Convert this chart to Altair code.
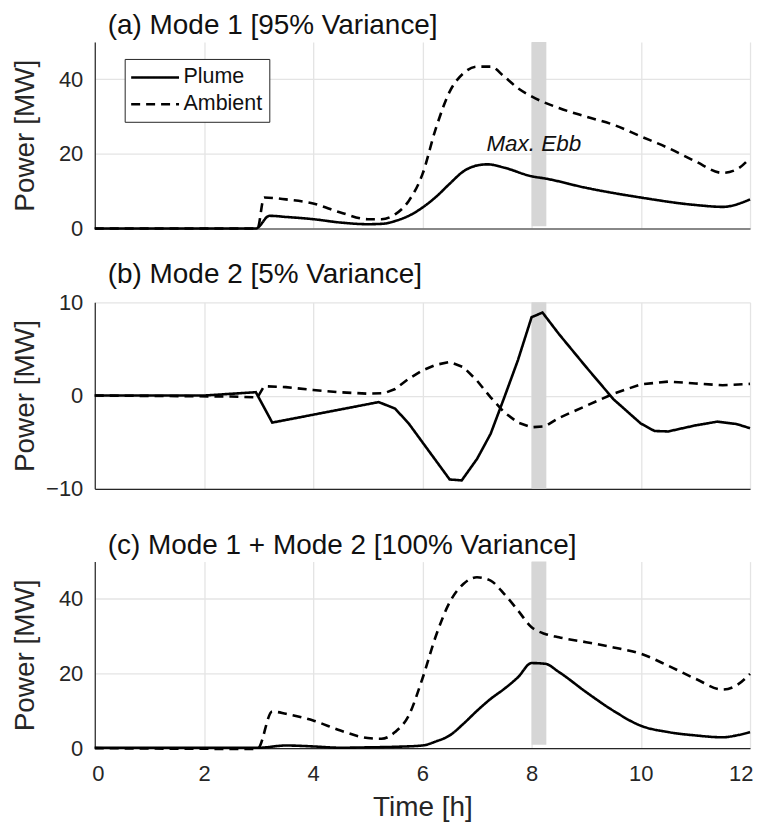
import altair as alt
import pandas as pd

FONT = "Liberation Sans"
INK = "#262626"

# ---------------- data ----------------
# (a) Mode 1
a_plume_t = [0, 2.95, 3.2, 3.5, 4, 4.5, 5, 5.3, 5.5, 5.75, 6, 6.25, 6.5, 6.75, 7.0, 7.2, 7.5, 8, 8.25, 9, 10, 11, 11.5, 12]
a_plume_v = [0, 0, 3.4, 3.1, 2.5, 1.6, 1.15, 1.3, 2.0, 3.4, 5.6, 8.5, 12.0, 15.3, 16.9, 17.2, 16.3, 14.0, 13.4, 10.9, 8.3, 6.3, 5.8, 7.8]
a_amb_t = [0, 2.98, 3.1, 3.5, 4, 4.5, 5, 5.25, 5.5, 5.75, 6, 6.25, 6.5, 6.75, 7, 7.25, 7.5, 7.75, 8, 8.5, 9, 9.5, 10, 10.5, 11, 11.5, 11.75, 12]
a_amb_v = [0, 0, 8.3, 7.8, 6.7, 4.3, 2.5, 2.5, 3.8, 7.4, 14.5, 27, 36.7, 41.6, 43.4, 43.4, 40.7, 37.6, 35.4, 32.3, 30, 27.8, 24.7, 21.6, 18, 14.9, 15.8, 18.9]

# (b) Mode 2
b_plume_t = [0, 2, 2.95, 3.25, 5.2, 5.5, 5.75, 6, 6.25, 6.5, 6.72, 7, 7.25, 7.5, 7.75, 8, 8.2, 8.5, 9, 9.5, 10, 10.25, 10.5, 11, 11.4, 11.75, 12]
b_plume_v = [0, 0, 0.36, -2.9, -0.7, -1.4, -3.0, -5.0, -7.0, -9.0, -9.1, -6.8, -4.1, -0.2, 3.8, 8.4, 8.9, 6.6, 3.05, -0.4, -3.0, -3.8, -3.85, -3.2, -2.8, -3.05, -3.5]
b_amb_t = [0, 2.5, 2.98, 3.1, 3.5, 4, 4.5, 5, 5.3, 5.5, 5.75, 6, 6.25, 6.5, 6.75, 7, 7.25, 7.5, 7.75, 8, 8.25, 8.5, 9, 9.5, 10, 10.5, 11, 11.5, 12]
b_amb_v = [0, -0.1, -0.2, 1.0, 0.9, 0.6, 0.35, 0.2, 0.25, 0.7, 1.8, 2.7, 3.3, 3.6, 3.05, 1.6, -0.2, -1.8, -2.9, -3.4, -3.3, -2.4, -1.1, 0.2, 1.2, 1.5, 1.3, 1.1, 1.25]

# (c) Mode 1 + Mode 2
c_plume_t = [0, 3, 3.5, 4, 4.5, 5, 5.5, 6, 6.25, 6.5, 6.75, 7, 7.25, 7.5, 7.75, 8, 8.25, 8.5, 9, 9.5, 10, 10.5, 11, 11.5, 11.75, 12]
c_plume_v = [0.1, 0.1, 0.7, 0.45, 0.1, 0.2, 0.35, 0.7, 1.8, 3.4, 6.5, 10, 13.2, 15.9, 19, 22.8, 22.6, 20.4, 15, 10, 6, 4.3, 3.4, 2.9, 3.4, 4.3]
c_amb_t = [0, 2.5, 2.98, 3.25, 3.5, 4, 4.5, 5, 5.25, 5.5, 5.75, 6, 6.25, 6.5, 6.75, 7, 7.25, 7.5, 7.75, 8, 8.25, 8.5, 9, 9.5, 10, 10.5, 11, 11.5, 11.75, 12]
c_amb_v = [0, -0.2, -0.2, 9.8, 9.2, 7.4, 4.7, 2.7, 2.5, 4.3, 8.75, 18.6, 30.2, 39.1, 44, 45.8, 44.9, 41.3, 36.9, 32.4, 30.6, 29.7, 28.4, 27, 25.3, 22.1, 18.6, 15.7, 16.8, 19.9]

titles = ["(a) Mode 1 [95% Variance]", "(b) Mode 2 [5% Variance]", "(c) Mode 1 + Mode 2 [100% Variance]"]
series_names = ["Plume", "Ambient"]
x_ticks = [0, 2, 4, 6, 8, 10, 12]
band_t = [8.0, 8.27]
annot_text = ["Max. Ebb"]
annot_t = [8.04]
annot_v = [22.6]

W, H = 657, 187


def long_df(pt, pv, at, av):
    d1 = pd.DataFrame({"t": pt, "v": pv, "series": series_names[0]})
    d2 = pd.DataFrame({"t": at, "v": av, "series": series_names[1]})
    return pd.concat([d1, d2], ignore_index=True)


def panel(title, df, ydom, yvals, show_x, show_legend, interp, band_bottom, annotate=False):
    xscale = alt.Scale(domain=[0, 12], nice=False, zero=False)
    yscale = alt.Scale(domain=ydom, nice=False, zero=False)
    if show_x:
        xaxis = alt.Axis(values=x_ticks, title="Time [h]", labelPadding=15, titlePadding=10,
                         grid=True, ticks=False, labelFlush=True, labelFlushOffset=3)
    else:
        xaxis = alt.Axis(values=x_ticks, title=None, labels=False, ticks=False, grid=True,
                         minExtent=0, maxExtent=0)
    yaxis = alt.Axis(values=yvals, title="Power [MW]", grid=True, ticks=False,
                     labelPadding=12, minExtent=44, maxExtent=44, titlePadding=11)

    band_df = pd.DataFrame({"x": [band_t[0]], "x2": [band_t[1]], "y": [ydom[1]], "y2": [band_bottom]})
    band = alt.Chart(band_df).mark_rect(color="#d6d6d6").encode(
        x=alt.X("x:Q", scale=xscale, axis=xaxis),
        x2="x2:Q",
        y=alt.Y("y:Q", scale=yscale, axis=yaxis),
        y2="y2:Q",
    )
    if show_legend:
        legend = alt.Legend(orient="none", legendX=30, legendY=17, title=None,
                            strokeColor=INK, fillColor="white", padding=7,
                            labelFontSize=21.5, labelFont=FONT, labelColor="#111",
                            symbolType="M-1.2,0H3.6", symbolSize=400, symbolStrokeWidth=2.5,
                            symbolStrokeColor="black", rowPadding=5, labelOffset=29,
                            cornerRadius=0)
    else:
        legend = None
    lines = alt.Chart(df).mark_line(color="black", strokeWidth=2.6, interpolate=interp).encode(
        x=alt.X("t:Q", scale=xscale, axis=xaxis),
        y=alt.Y("v:Q", scale=yscale, axis=yaxis),
        strokeDash=alt.StrokeDash("series:N",
                                  scale=alt.Scale(domain=series_names, range=[[1, 0], [9, 6]]),
                                  legend=legend),
        order=alt.Order("t:Q"),
    )
    layers = [band, lines]
    if annotate:
        adf = pd.DataFrame({"t": annot_t, "v": annot_v, "label": annot_text})
        txt = alt.Chart(adf).mark_text(font=FONT, fontSize=22.5, fontStyle="italic",
                                       align="center", baseline="middle", color="#111").encode(
            x=alt.X("t:Q", scale=xscale, axis=xaxis),
            y=alt.Y("v:Q", scale=yscale, axis=yaxis),
            text="label:N",
        )
        layers.append(txt)
    return alt.layer(*layers).properties(
        width=W, height=H,
        title=alt.TitleParams(title, anchor="start", frame="group", dx=13, offset=2, fontSize=28,
                              font=FONT, fontWeight="normal", color="#111"),
    )


pa = panel(titles[0], long_df(a_plume_t, a_plume_v, a_amb_t, a_amb_v), [0, 50], [0, 20, 40],
           False, True, "monotone", 0.6, annotate=True)
pb = panel(titles[1], long_df(b_plume_t, b_plume_v, b_amb_t, b_amb_v), [-10, 10], [-10, 0, 10],
           False, False, "linear", -10)
pc = panel(titles[2], long_df(c_plume_t, c_plume_v, c_amb_t, c_amb_v), [0, 50], [0, 20, 40],
           True, False, "monotone", 0.9)

top = alt.vconcat(pa, pb, spacing=22).resolve_scale(strokeDash="independent").resolve_legend(
    strokeDash="independent")

chart = alt.vconcat(top, pc, spacing=32).resolve_scale(
    strokeDash="independent"
).resolve_legend(strokeDash="independent").properties(
    padding={"left": 4, "top": 3, "right": 0, "bottom": 0}
).configure_view(stroke=None).configure_axis(
    domainColor=INK, domainWidth=1.2, gridColor="#e4e4e4", gridWidth=1.3,
    labelColor=INK, titleColor=INK, labelFont=FONT, titleFont=FONT,
    labelFontSize=22, titleFontSize=28, titleFontWeight="normal",
)

chart.save("out.html", embed_options={"renderer": "svg", "actions": False})
